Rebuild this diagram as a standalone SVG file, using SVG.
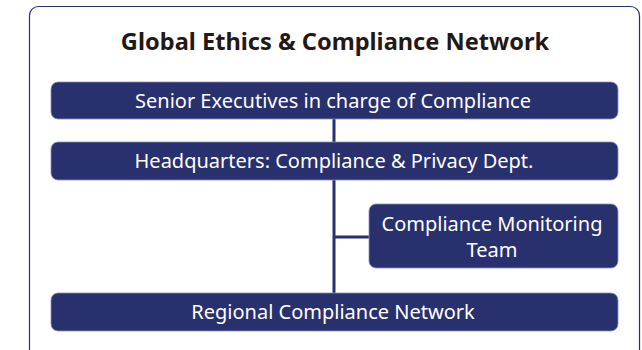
<svg xmlns="http://www.w3.org/2000/svg" width="642" height="350" viewBox="0 0 642 350">
<style>
.frame{fill:#fff;stroke:#2a3172;stroke-width:1.2}
.box{fill:#29306e;stroke:#8a8fb3;stroke-width:0.8}
.lbl{font-family:"Noto Sans","Open Sans",sans-serif;font-size:20px;fill:#fff;text-anchor:middle}
.title{font-family:"Noto Sans","Open Sans",sans-serif;font-size:23.6px;font-weight:bold;fill:#231815;text-anchor:middle}
.conn{stroke:#29306e;stroke-width:3;fill:none}
</style>
<rect width="642" height="350" fill="#fff"/>
<rect class="frame" x="29.5" y="6.5" width="610" height="355" rx="9"/>
<text class="title" x="335" y="50">Global Ethics &amp; Compliance Network</text>
<g id="connectors">
<line class="conn" x1="334" y1="119" x2="334" y2="294"/>
<line class="conn" x1="334" y1="237" x2="370" y2="237"/>
</g>
<g id="senior">
<rect class="box" x="51" y="82" width="567" height="37" rx="7"/>
<text class="lbl" x="333" y="107.5">Senior Executives in charge of Compliance</text>
</g>
<g id="hq">
<rect class="box" x="51" y="142" width="567" height="38" rx="7"/>
<text class="lbl" x="334" y="168">Headquarters: Compliance &amp; Privacy Dept.</text>
</g>
<g id="monitoring">
<rect class="box" x="369" y="204" width="249" height="64" rx="7"/>
<text class="lbl" x="492" y="231">Compliance Monitoring</text>
<text class="lbl" x="492" y="257">Team</text>
</g>
<g id="regional">
<rect class="box" x="51" y="293" width="567" height="38" rx="7"/>
<text class="lbl" x="333" y="319">Regional Compliance Network</text>
</g>
</svg>
